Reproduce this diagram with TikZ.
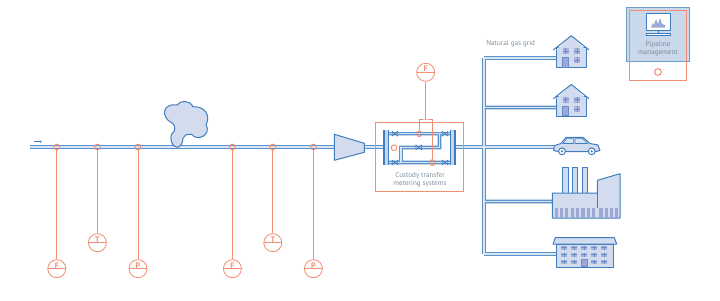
\documentclass[tikz,border=0pt]{standalone}
\usepackage{fontspec}
\usetikzlibrary{arrows.meta}
\setmainfont{PT Sans}
\definecolor{sigorange}{HTML}{F18F72}
\definecolor{pipeblue}{HTML}{3F7EBE}
\definecolor{pipewall}{HTML}{5C92CB}
\definecolor{pipelight}{HTML}{C4D6EC}
\definecolor{pipebore}{HTML}{D9E5F3}
\definecolor{bodyfill}{HTML}{D3DBEE}
\definecolor{doorfill}{HTML}{9CA8D6}
\definecolor{panefill}{HTML}{AAB6DE}
\definecolor{panefine}{HTML}{6B8CC6}
\definecolor{panelfill}{HTML}{C9D8EA}
\definecolor{panelline}{HTML}{6E9CCB}
\definecolor{labelgrey}{HTML}{7F8C9C}
\tikzset{
  x=1pt, y=-1pt,
  pipehalo/.style={draw=pipelight, line width=4.4pt, line join=miter},
  pipeouter/.style={draw=pipewall, line width=3.2pt, line join=miter},
  pipeinner/.style={draw=pipebore, line width=1.4pt, line join=miter},
  sig/.style={draw=sigorange, line width=1pt},
  tapping/.style={circle, draw=sigorange, line width=1pt, minimum size=5.6pt, inner sep=0pt},
  instr/.style={circle, draw=sigorange, line width=0.85pt, minimum size=18pt, inner sep=0pt,
    path picture={\draw[sigorange, line width=0.85pt] (path picture bounding box.west) -- (path picture bounding box.east);}},
  instrtext/.style={text=sigorange, font=\fontsize{8}{9}\selectfont\bfseries, inner sep=0pt, yshift=3.2pt},
  solid shape/.style={draw=pipeblue, fill=bodyfill, line width=1pt, line join=round},
  caption/.style={text=labelgrey, font=\fontsize{7.1}{7.7}\selectfont, align=center, inner sep=0pt},
  valve/.pic={\draw[pipeblue, fill=bodyfill, line width=0.8pt] (-2.8,-2.2) -- (2.8,2.2) -- (2.8,-2.2) -- (-2.8,2.2) -- cycle;},
  pane/.pic={\fill[panefill] (-2.9,-2.9) rectangle (2.9,2.9);
             \draw[panefine, line width=0.6pt] (0,-2.9) -- (0,2.9) (-2.9,0) -- (2.9,0);},
  flatpane/.pic={\fill[panefill] (-2.6,-2) rectangle (2.6,2);
             \draw[panefine, line width=0.6pt] (-2.6,0) -- (2.6,0) (0,-2) -- (0,2);},
  house/.pic={
    \draw[solid shape] (2.9,11.6) rectangle (32.7,31.6);
    \fill[bodyfill] (2.9,14.3) -- (18,0) -- (32.7,14.3) -- cycle;
    \draw[pipeblue, line width=1pt, line join=round] (0,14.3) -- (18,0) -- (35.7,14.3);
    \draw[panefine, fill=doorfill, line width=0.5pt] (9.4,21.6) rectangle (15.4,31.1);
    \path (12.4,15.3) pic {pane} (23.7,15.3) pic {pane} (23.7,24.6) pic {pane};
  }
}
\newcommand{\mainpipes}{
  (inlet) -- (compIn)
  (compOut) -- (flangeL)
  (flangeR) -- (hub)
  (gridTop) -- (gridBottom)
  (branchA) -| (gridTop)
  (branchB) -- (gridB)
  (branchC) -- (hub)
  (branchD) -- (gridD)
  (branchE) -| (gridBottom)
  (meterUL) -- (meterUR)
  (meterLL) -- (meterLR)
  (meterTap) |- (meterMidL) |- (meterLow)
}
\begin{document}
\begin{tikzpicture}
\useasboundingbox (0,0) rectangle (720,300);

% Anchor points of the gas network
\coordinate (inlet) at (30,147);
\coordinate (compIn) at (336,147);
\coordinate (compOut) at (363,147);
\coordinate (flangeL) at (384,147);
\coordinate (flangeR) at (454,147);
\coordinate (hub) at (484,147);
\coordinate (gridTop) at (484,58);
\coordinate (gridBottom) at (484,254);
\coordinate (gridB) at (484,107.3);
\coordinate (gridD) at (484,201.3);
\coordinate (branchA) at (557,58);
\coordinate (branchB) at (557,107.3);
\coordinate (branchC) at (554,147);
\coordinate (branchD) at (553,201.3);
\coordinate (branchE) at (557,254);
\coordinate (meterUL) at (388,133.7);
\coordinate (meterUR) at (451,133.7);
\coordinate (meterLL) at (388,162.5);
\coordinate (meterLR) at (451,162.5);
\coordinate (meterTap) at (439.3,133.7);
\coordinate (meterMidL) at (401,147.3);
\coordinate (meterLow) at (401,162.5);

% Pipe work: walls first, pale bore on top so junctions stay open
\draw[pipehalo] \mainpipes;
\draw[pipeouter] \mainpipes;
\draw[pipeinner] \mainpipes;

% Flow arrow
\coordinate (flowA) at (34,141.6);
\coordinate (flowB) at (42,141.6);
\draw[pipeblue, line width=0.8pt, -{Latex[length=2pt,width=2.4pt]}] (flowA) -- (flowB);

% Gas cloud above the line
\draw[solid shape] (177.3,147.3)
  .. controls (170,146) and (169,134) .. (174,131.7)
  .. controls (176,127) and (174,124) .. (171,122.3)
  .. controls (162,118) and (161,103) .. (177,105)
  .. controls (180,100) and (190,100) .. (193,106.7)
  .. controls (205,106) and (211,116) .. (206,124.5)
  .. controls (212,135) and (197,142) .. (191.7,134.3)
  .. controls (187,134) and (184,135) .. (183,138)
  .. controls (183,143) and (180,147) .. (177.3,147.3) -- cycle;

% Compressor
\draw[solid shape] (334.3,134.3) -- (364.3,143.3) -- (364.3,152.3) -- (334.3,160.3) -- cycle;

% Metering skid
\draw[sig] (375.7,122.7) rectangle (463.3,191.3);
\fill[pipelight] (384,130.3) rectangle (388.6,165.3);
\fill[pipelight] (450.4,130.3) rectangle (455,165.3);
\draw[pipeblue, line width=0.8pt] (388.6,130.3) -- (388.6,165.3);
\draw[pipeblue, line width=0.8pt] (450.4,130.3) -- (450.4,165.3);
\draw[pipeblue, line width=1.5pt] (384,130.3) -- (384,165.3);
\draw[pipeblue, line width=1.5pt] (455,130.3) -- (455,165.3);
\foreach \vx/\vy in {395/133.7, 445/133.7, 395/162.5, 445/162.5, 418.7/147.3}
  \path (\vx,\vy) pic {valve};
\node[caption] (skidlabel) at (420,179.8) {Custody transfer\\metering systems};
\node[tapping] (skidport) at (394,147.7) {};

% Field instruments along the line
\node[tapping] (s1) at (56.8,147) {};
\node[tapping] (s2) at (97.4,147) {};
\node[tapping] (s3) at (138,147) {};
\node[tapping] (s4) at (232.4,147) {};
\node[tapping] (s5) at (272.8,147) {};
\node[tapping] (s6) at (313.4,147) {};
\node[tapping] (s7) at (419.3,133.7) {};
\node[tapping] (s8) at (432.3,162.6) {};
\node[instr, label={[instrtext]center:F}] (f1) at (56.8,268.7) {};
\node[instr, label={[instrtext]center:T}] (t1) at (97.4,242.7) {};
\node[instr, label={[instrtext]center:P}] (p1) at (138,268.7) {};
\node[instr, label={[instrtext]center:F}] (f2) at (232.4,268.7) {};
\node[instr, label={[instrtext]center:T}] (t2) at (272.8,242.7) {};
\node[instr, label={[instrtext]center:P}] (p2) at (313.4,268.7) {};
\node[instr, label={[instrtext]center:F}] (f3) at (425.7,72.3) {};
\coordinate (tapjoin) at (425.7,119);
\draw[sig] (s1) -- (f1);
\draw[sig] (s2) -- (t1);
\draw[sig] (s3) -- (p1);
\draw[sig] (s4) -- (f2);
\draw[sig] (s5) -- (t2);
\draw[sig] (s6) -- (p2);
\draw[sig] (f3) -- (tapjoin);
\draw[sig] (s7) |- (tapjoin) -| (s8);

% Consumers on the grid
\node[caption] (gridlabel) at (510.7,43.7) {Natural gas grid};
\path (553.3,35.7) pic {house};
\path (553.3,84.4) pic {house};

% Car
\draw[solid shape] (553.6,150.5) -- (554.5,145.5) -- (561,143.5) -- (566,137.3) -- (583,137.3) -- (590,143.5) -- (598,145) -- (600,150.5) -- (596,151.5) -- (558,151.5) -- cycle;
\draw[pipeblue, fill=pipebore, line width=0.6pt] (563,143.5) -- (567,138.6) -- (573.3,138.6) -- (573.3,143.5) -- cycle;
\draw[pipeblue, fill=pipebore, line width=0.6pt] (575,138.6) -- (582.5,138.6) -- (587.5,143.5) -- (575,143.5) -- cycle;
\foreach \wx in {562,591.7} {
  \draw[pipeblue, fill=white, line width=1pt] (\wx,151.3) circle (3.4);
  \fill[pipeblue] (\wx,151.3) circle (1.2);
}

% Factory
\foreach \cx in {562.7,572.3,582}
  \draw[solid shape] (\cx,193) -- (\cx,167.3) -- (\cx+5.3,167.3) -- (\cx+5.3,193);
\draw[solid shape] (552.3,193) -- (597.3,193) -- (597.3,180.3) -- (620,173.7) -- (620,218) -- (552.3,218) -- cycle;
\draw[pipeblue, line width=0.6pt] (597.3,193) -- (597.3,208);
\foreach \bx in {556.3,561.7,566.7,572.3,577.7,583,588.3,593.7,601,606.3,611.7,616.7}
  \fill[doorfill] (\bx-1.7,208) rectangle (\bx+1.7,217.5);

% Office block
\draw[solid shape] (556.3,244) rectangle (613.3,267);
\draw[solid shape] (555.3,237.7) -- (614.3,237.7) -- (616.7,244) -- (553,244) -- cycle;
\foreach \wx in {564,574,584,594,604}
  \foreach \wy in {247.5,254.7}
    \path (\wx,\wy) pic {flatpane};
\foreach \wx in {564,574,594,604}
  \path (\wx,261.5) pic {flatpane};
\draw[panefine, fill=doorfill, line width=0.5pt] (581.2,259) rectangle (586.8,266.5);

% Control room panel
\draw[panelline, fill=panelfill, line width=1pt] (626,7.3) rectangle (689.7,61.3);
\draw[sig] (629.3,10.3) rectangle (686.3,80.3);
\node[tapping, minimum size=6.8pt] (panelport) at (658,72) {};
\draw[pipeblue, fill=white, line width=1pt] (646.7,13.7) rectangle (670.3,30);
\draw[pipeblue, line width=1pt] (658.5,30) -- (658.5,33.5);
\draw[pipeblue, fill=white, line width=0.8pt] (646.7,33.5) rectangle (670.6,35.2);
\fill[doorfill] (651,27.5) -- (653,23) -- (654,25) -- (656,19) -- (658,24) -- (660,18) -- (662,24) -- (665,25) -- (665,27.5) -- cycle;
\node[caption] (panellabel) at (658,48.6) {Pipeline\\management};
\end{tikzpicture}
\end{document}
